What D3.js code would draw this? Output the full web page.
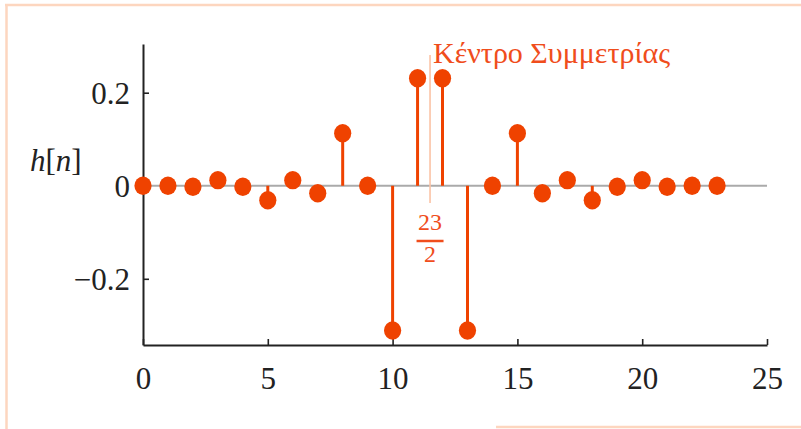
<!DOCTYPE html>
<html><head><meta charset="utf-8">
<script src="https://cdn.jsdelivr.net/npm/d3@7"></script>
</head>
<body style="margin:0;padding:0;background:#fff">
<script>
// data
const nValues = d3.range(0, 24);
const hValues = [0.000, 0.000, -0.002, 0.012, -0.002, -0.031, 0.012, -0.016, 0.113, 0.000,
                 -0.311, 0.231, 0.231, -0.311, 0.000, 0.113, -0.016, 0.012, -0.031, -0.002,
                 0.012, -0.002, 0.000, 0.000];
const xTicks = [0, 5, 10, 15, 20, 25];
const yTicks = [-0.2, 0, 0.2];
const yTickLabels = ["\u22120.2", "0", "0.2"];
const symCenter = 23 / 2;
const annotation = "Κέντρο Συμμετρίας";
const yLabel = ["h", "[", "n", "]"];

const W = 801, H = 429;
const FONT = '"Liberation Serif"';
const stemColor = "#ef4200";
const svg = d3.select("body").append("svg").attr("width", W).attr("height", H).style("display", "block");

// frame
const frame = svg.append("g").attr("stroke", "#fdd6bf").attr("stroke-width", 2.5).attr("fill", "none");
frame.append("line").attr("x1", 5).attr("x2", W).attr("y1", 5).attr("y2", 5);
frame.append("line").attr("x1", 6.5).attr("x2", 6.5).attr("y1", 5).attr("y2", H);
frame.append("line").attr("x1", 496).attr("x2", W).attr("y1", 427).attr("y2", 427);

const x = d3.scaleLinear().domain([0, 25]).range([143, 767]);
const y = d3.scaleLinear().domain([-0.3423, 0.3047]).range([345, 44]);

// zero line
svg.append("line").attr("x1", x(0)).attr("x2", x(25)).attr("y1", y(0)).attr("y2", y(0))
  .attr("stroke", "#aaaaaa").attr("stroke-width", 2);

// symmetry line
svg.append("line").attr("x1", x(symCenter)).attr("x2", x(symCenter)).attr("y1", 55).attr("y2", 203)
  .attr("stroke", "#fbc3a5").attr("stroke-width", 1.6);

// axes
const xAxis = svg.append("g").attr("transform", `translate(0,${y.range()[0]})`)
  .call(d3.axisBottom(x).tickValues(xTicks).tickSizeInner(-6).tickSizeOuter(0).tickFormat(d3.format("d")));
xAxis.select(".domain").attr("stroke", "#222").attr("stroke-width", 2);
xAxis.selectAll(".tick line").attr("stroke", "#222").attr("stroke-width", 1.6);
xAxis.selectAll(".tick text").attr("y", 44).attr("dy", 0)
  .style("font-family", FONT).style("font-size", "31px").attr("fill", "#222");

const yAxis = svg.append("g").attr("transform", `translate(${x(0)},0)`)
  .call(d3.axisLeft(y).tickValues(yTicks).tickSizeInner(-6).tickSizeOuter(0)
    .tickFormat((d, i) => yTickLabels[i]));
yAxis.select(".domain").attr("stroke", "#222").attr("stroke-width", 2);
yAxis.selectAll(".tick line").attr("stroke", "#222").attr("stroke-width", 1.6);
yAxis.selectAll(".tick text").attr("x", -13).attr("dy", "0.36em")
  .style("font-family", FONT).style("font-size", "31px").attr("fill", "#222");

// stems
const data = nValues.map((n, i) => ({n, h: hValues[i]}));
svg.append("g").selectAll("line").data(data).join("line")
  .attr("x1", d => x(d.n)).attr("x2", d => x(d.n))
  .attr("y1", y(0)).attr("y2", d => y(d.h))
  .attr("stroke", stemColor).attr("stroke-width", 3);
svg.append("g").selectAll("ellipse").data(data).join("ellipse")
  .attr("cx", d => x(d.n)).attr("cy", d => y(d.h))
  .attr("rx", 8.6).attr("ry", 9.2).attr("fill", stemColor);

// y label
const yl = svg.append("text").attr("x", 30).attr("y", 171)
  .style("font-family", FONT).style("font-size", "31px").attr("fill", "#222");
yLabel.forEach((s, i) => yl.append("tspan").text(s).style("font-style", i % 2 === 0 ? "italic" : "normal"));

// annotation
svg.append("text").attr("x", 433).attr("y", 63)
  .style("font-family", FONT).style("font-size", "30px").attr("fill", "#f04d1c").text(annotation);

// fraction
const fx = x(symCenter);
svg.append("text").attr("x", fx).attr("y", 230).attr("text-anchor", "middle")
  .style("font-family", FONT).style("font-size", "24px").attr("fill", "#f04d1c").text("23");
svg.append("line").attr("x1", fx - 13.5).attr("x2", fx + 13.5).attr("y1", 241).attr("y2", 241)
  .attr("stroke", "#f04d1c").attr("stroke-width", 2.5);
svg.append("text").attr("x", fx).attr("y", 262).attr("text-anchor", "middle")
  .style("font-family", FONT).style("font-size", "24px").attr("fill", "#f04d1c").text("2");
</script>
</body></html>
